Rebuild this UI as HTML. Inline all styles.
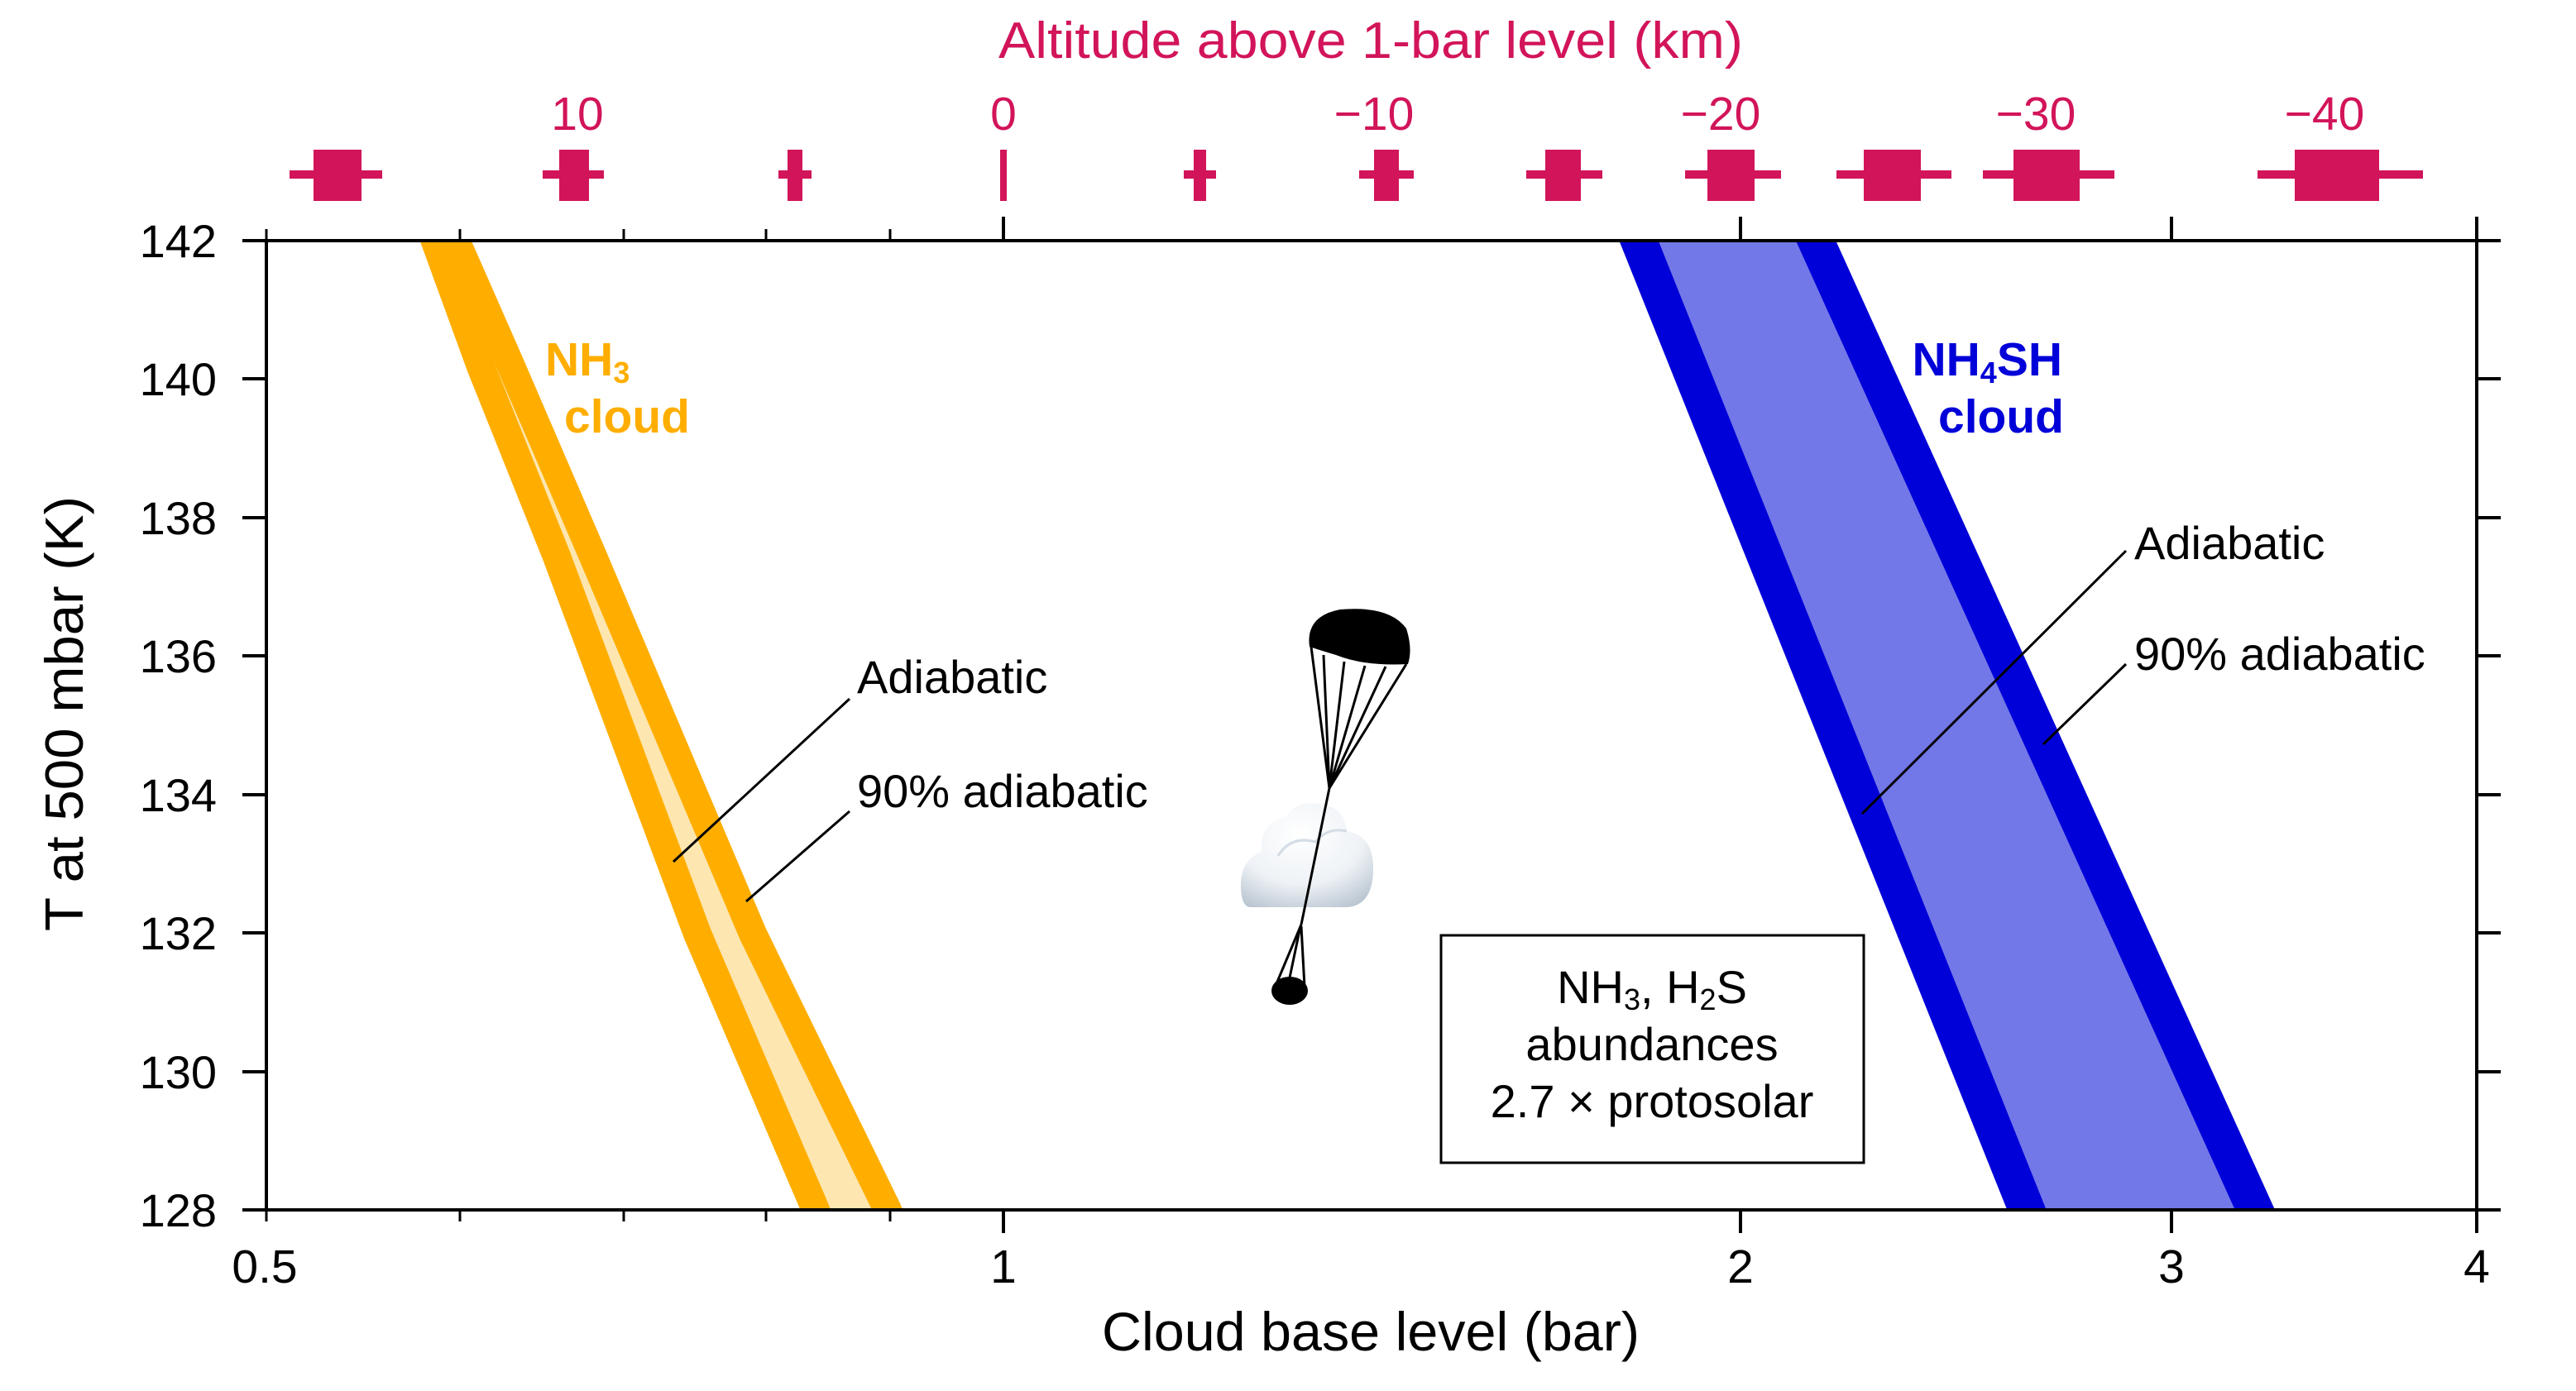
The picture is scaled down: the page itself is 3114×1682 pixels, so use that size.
<!DOCTYPE html>
<html><head><meta charset="utf-8"><style>
html,body{margin:0;padding:0;background:#fff;}
svg{display:block;font-family:"Liberation Sans",Arial,sans-serif;}
</style></head><body>
<svg width="3114" height="1682" viewBox="0 0 3114 1682" xmlns="http://www.w3.org/2000/svg">
<defs>
<clipPath id="plot"><rect x="322" y="291" width="2672" height="1172"/></clipPath>
<radialGradient id="cg" cx="0.45" cy="0.3" r="0.8">
<stop offset="0" stop-color="#ffffff"/><stop offset="0.6" stop-color="#eef2f6"/><stop offset="1" stop-color="#b8c4d0"/>
</radialGradient>
</defs>

<!-- Top title -->
<text x="1657" y="70" font-size="62" fill="#D2145A" text-anchor="middle" textLength="900" lengthAdjust="spacingAndGlyphs">Altitude above 1-bar level (km)</text>
<g font-size="57" fill="#D2145A" text-anchor="middle">
<text x="698" y="157">10</text>
<text x="1213" y="157">0</text>
<text x="1661" y="157">−10</text>
<text x="2080" y="157">−20</text>
<text x="2461" y="157">−30</text>
<text x="2810" y="157">−40</text>
</g>
<!-- altitude markers -->
<g fill="#D2145A">
<rect x="379" y="181" width="58" height="62"/><rect x="350" y="206" width="112" height="10"/>
<rect x="676" y="181" width="36" height="62"/><rect x="656" y="206" width="74" height="10"/>
<rect x="952" y="181" width="18" height="62"/><rect x="941" y="206" width="40" height="10"/>
<rect x="1209" y="181" width="8" height="62"/>
<rect x="1443" y="181" width="15" height="62"/><rect x="1431" y="206" width="39" height="10"/>
<rect x="1661" y="181" width="30" height="62"/><rect x="1643" y="206" width="66" height="10"/>
<rect x="1868" y="181" width="43" height="62"/><rect x="1845" y="206" width="92" height="10"/>
<rect x="2064" y="181" width="57" height="62"/><rect x="2037" y="206" width="116" height="10"/>
<rect x="2253" y="181" width="69" height="62"/><rect x="2220" y="206" width="139" height="10"/>
<rect x="2434" y="181" width="80" height="62"/><rect x="2397" y="206" width="159" height="10"/>
<rect x="2774" y="181" width="102" height="62"/><rect x="2729" y="206" width="200" height="10"/>
</g>

<!-- data bands -->
<g clip-path="url(#plot)">
<polygon fill="#FDE6B0" points="518,291 581,443 673,673 843,1129 986,1463 1073,1463 910,1129 717,673 618,443 542,291"/>
<g fill="none" stroke="#FFAE00" stroke-width="34" stroke-linejoin="round">
<polyline points="518,270 581,443 673,673 843,1129 986,1463 992,1480"/>
<polyline points="542,270 618,443 717,673 910,1129 1073,1463 1080,1480"/>
</g>
<polygon fill="#7378E8" points="1981,291 2450,1463 2726,1463 2195,291"/>
<g fill="none" stroke="#0000D8" stroke-width="44">
<line x1="1973" y1="271" x2="2458" y2="1483"/>
<line x1="2186" y1="271" x2="2735" y2="1483"/>
</g>
</g>

<!-- axes -->
<g stroke="#000" stroke-width="4" fill="none">
<rect x="322" y="291" width="2672" height="1172"/>
<!-- left/right ticks -->
<path d="M293 291H322M293 458H322M293 626H322M293 793H322M293 961H322M293 1128H322M293 1296H322M293 1463H322"/>
<path d="M2994 291H3023M2994 458H3023M2994 626H3023M2994 793H3023M2994 961H3023M2994 1128H3023M2994 1296H3023M2994 1463H3023"/>
<!-- bottom ticks -->
<path d="M1213 1463V1491M2104 1463V1491M2625 1463V1491M2994 1463V1491"/>
<path d="M1213 291V262M2104 291V262M2625 291V262M2994 291V262"/>
</g>
<g stroke="#000" stroke-width="3" fill="none">
<path d="M322 1463V1477M556 1463V1477M754 1463V1477M926 1463V1477M1076 1463V1477"/>
<path d="M322 291V277M556 291V277M754 291V277M926 291V277M1076 291V277"/>
</g>

<!-- y tick labels -->
<g font-size="56" text-anchor="end" fill="#000">
<text x="262" y="311">142</text>
<text x="262" y="478">140</text>
<text x="262" y="646">138</text>
<text x="262" y="813">136</text>
<text x="262" y="981">134</text>
<text x="262" y="1148">132</text>
<text x="262" y="1316">130</text>
<text x="262" y="1483">128</text>
</g>
<g font-size="57" text-anchor="middle" fill="#000">
<text x="320" y="1551">0.5</text>
<text x="1213" y="1551">1</text>
<text x="2104" y="1551">2</text>
<text x="2625" y="1551">3</text>
<text x="2994" y="1551">4</text>
</g>
<text x="1657" y="1633" font-size="66" text-anchor="middle" textLength="650" lengthAdjust="spacingAndGlyphs">Cloud base level (bar)</text>
<text x="100" y="863" font-size="65" text-anchor="middle" textLength="526" lengthAdjust="spacingAndGlyphs" transform="rotate(-90 100 863)">T at 500 mbar (K)</text>

<!-- cloud labels -->
<g font-weight="bold" font-size="57" fill="#FFAE00">
<text x="659" y="454">NH<tspan font-size="36" dy="9">3</tspan></text>
<text x="834" y="523" text-anchor="end">cloud</text>
</g>
<g font-weight="bold" font-size="57" fill="#0000D8">
<text x="2493" y="454" text-anchor="end">NH<tspan font-size="36" dy="9">4</tspan><tspan dy="-9">SH</tspan></text>
<text x="2495" y="523" text-anchor="end">cloud</text>
</g>

<!-- annotations -->
<g font-size="56" fill="#000">
<text x="1036" y="838">Adiabatic</text>
<text x="1036" y="976">90% adiabatic</text>
<text x="2580" y="676">Adiabatic</text>
<text x="2580" y="810">90% adiabatic</text>
</g>
<g stroke="#000" stroke-width="3">
<line x1="1027" y1="845" x2="814" y2="1042"/>
<line x1="1027" y1="981" x2="902" y2="1090"/>
<line x1="2570" y1="666" x2="2251" y2="984"/>
<line x1="2570" y1="803" x2="2470" y2="900"/>
</g>

<!-- legend box -->
<rect x="1742" y="1131" width="511" height="275" fill="#fff" stroke="#000" stroke-width="3"/>
<g font-size="56" text-anchor="middle" fill="#000">
<text x="1997" y="1213">NH<tspan font-size="36" dy="8">3</tspan><tspan dy="-8">, H</tspan><tspan font-size="36" dy="8">2</tspan><tspan dy="-8">S</tspan></text>
<text x="1997" y="1282">abundances</text>
<text x="1997" y="1351">2.7 × protosolar</text>
</g>

<!-- cloud emoji-like -->
<g>
<path d="M1512 1097 Q1500 1097 1500 1070 Q1500 1040 1525 1030 Q1522 995 1555 988 Q1565 968 1595 972 Q1625 975 1628 1005 Q1660 1010 1660 1050 Q1660 1097 1625 1097 Z" fill="url(#cg)"/>
<path d="M1545 1035 Q1560 1010 1590 1018 Q1605 1000 1628 1005" fill="none" stroke="#d4dce4" stroke-width="3"/>
</g>
<!-- parachute -->
<g stroke="#000" stroke-width="3" fill="none">
<line x1="1585" y1="782" x2="1607" y2="953"/>
<line x1="1600" y1="792" x2="1607" y2="953"/>
<line x1="1625" y1="800" x2="1607" y2="953"/>
<line x1="1650" y1="805" x2="1607" y2="953"/>
<line x1="1675" y1="806" x2="1607" y2="953"/>
<line x1="1700" y1="803" x2="1607" y2="953"/>
<line x1="1607" y1="953" x2="1573" y2="1118"/>
<line x1="1573" y1="1118" x2="1542" y2="1192"/>
<line x1="1571" y1="1125" x2="1558" y2="1187"/>
<line x1="1573" y1="1120" x2="1577" y2="1193"/>
</g>
<path d="M1583 782 Q1578 745 1620 737 Q1680 732 1700 760 Q1708 785 1702 803 Q1650 806 1615 792 Q1595 786 1583 782 Z" fill="#000"/>
<ellipse cx="1559" cy="1198" rx="22" ry="17" fill="#000"/>
</svg>
</body></html>
